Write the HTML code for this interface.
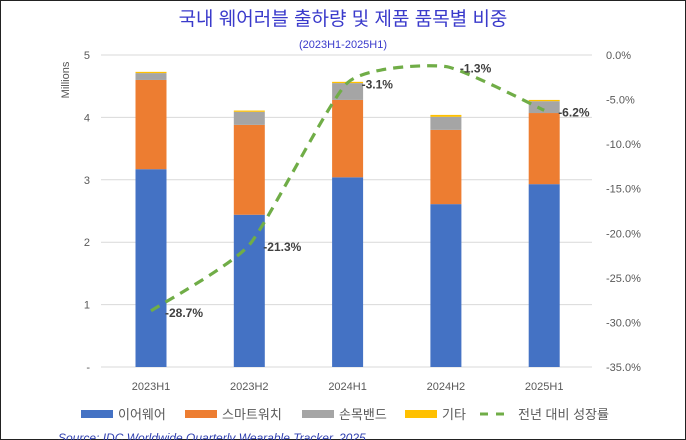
<!DOCTYPE html>
<html><head><meta charset="utf-8">
<style>
html,body{margin:0;padding:0;background:#fff;}
body{width:686px;height:440px;overflow:hidden;}
svg{display:block;font-family:"Liberation Sans","Noto Sans CJK KR",sans-serif;}
</style></head>
<body>
<svg id="chart" width="686" height="440" viewBox="0 0 686 440">
  <rect x="0.5" y="0.5" width="685" height="439" fill="#fff" stroke="#222" stroke-width="1"/>
  <text x="343" y="25" text-anchor="middle" font-size="19" fill="#3a3acb">국내 웨어러블 출하량 및 제품 품목별 비중</text>
  <text x="343" y="48" text-anchor="middle" font-size="11" fill="#3a3acb">(2023H1-2025H1)</text>
  <text transform="translate(69,80) rotate(-90)" text-anchor="middle" font-size="11" fill="#555">Millions</text>
  <g id="grid"></g><g id="bars"></g><g id="line"></g><g id="labels"></g>
  <g id="legend"></g>
  <text x="58" y="442" font-size="12" font-style="italic" fill="#2f3fb0">Source: IDC Worldwide Quarterly Wearable Tracker, 2025</text>
</svg>
<script>
const categories=["2023H1","2023H2","2024H1","2024H2","2025H1"];
const earwear=[3.17,2.44,3.04,2.61,2.93];
const smartwatch=[1.43,1.44,1.24,1.19,1.14];
const wristband=[0.11,0.21,0.27,0.21,0.19];
const other=[0.02,0.02,0.02,0.03,0.02];
const growth=[-28.7,-21.3,-3.1,-1.3,-6.2];
const leftTicks=[0,1,2,3,4,5];
const rightTicks=[0,-5,-10,-15,-20,-25,-30,-35];

const NS="http://www.w3.org/2000/svg";
const y0=367,yTop=55,x0=101,x1=592,step=98.3,cx0=151,bw=31;
const yL=v=>y0-(y0-yTop)*v/5;
const yR=v=>yTop+(y0-yTop)*(v/-35);
const xC=i=>cx0+i*step;
function mk(tag,attrs,parent){const e=document.createElementNS(NS,tag);for(const k in attrs)e.setAttribute(k,attrs[k]);parent.appendChild(e);return e;}
const grid=document.getElementById('grid');
leftTicks.forEach(t=>{
  if(t>0){const l=mk('line',{x1:x0,x2:x1,y1:yL(t),y2:yL(t),stroke:'#d9d9d9','stroke-width':1},grid);
  
  }
  const tx=mk('text',{x:90,y:yL(t)+4,'text-anchor':'end','font-size':11,fill:'#595959'},grid);
  tx.textContent=t===0?'-':String(t);
  
  
});
const base=mk('line',{x1:x0,x2:x1,y1:y0,y2:y0,stroke:'#d9d9d9','stroke-width':1},grid);


rightTicks.forEach(t=>{
  const tx=mk('text',{x:606,y:yR(t)+4,'font-size':11,fill:'#595959'},grid);
  tx.textContent=t.toFixed(1)+'%';
  
  
});
const bars=document.getElementById('bars');
const series=[[earwear,'#4472c4','bar-earwear'],[smartwatch,'#ed7d31','bar-smartwatch'],[wristband,'#a5a5a5','bar-wristband'],[other,'#ffc000','bar-other']];
categories.forEach((c,i)=>{
  let acc=0;
  series.forEach(([arr,col,nm])=>{
    const v=arr[i];
    const r=mk('rect',{x:xC(i)-bw/2,y:yL(acc+v),width:bw,height:yL(acc)-yL(acc+v),fill:col},bars);
    
    
    acc+=v;
  });
  const tx=mk('text',{x:xC(i),y:390,'text-anchor':'middle','font-size':11,fill:'#595959'},bars);
  tx.textContent=c;
  
  
});
const pts=growth.map((g,i)=>[xC(i),yR(g)]);
let d=`M${pts[0][0]},${pts[0][1]}`;
const k=0.09;
for(let i=0;i<pts.length-1;i++){
  const p0=pts[Math.max(0,i-1)],p1=pts[i],p2=pts[i+1],p3=pts[Math.min(pts.length-1,i+2)];
  const c1=[p1[0]+(p2[0]-p0[0])*k,p1[1]+(p2[1]-p0[1])*k];
  const c2=[p2[0]-(p3[0]-p1[0])*k,p2[1]-(p3[1]-p1[1])*k];
  d+=` C${c1[0]},${c1[1]} ${c2[0]},${c2[1]} ${p2[0]},${p2[1]}`;
}
const line=mk('path',{d:d,fill:'none',stroke:'#70ad47','stroke-width':3.2,'stroke-dasharray':'10 7'},document.getElementById('line'));


const labs=document.getElementById('labels');
growth.forEach((g,i)=>{
  const tx=mk('text',{x:xC(i)+14,y:yR(g)+6,'font-size':12,'font-weight':'bold',fill:'#404040'},labs);
  tx.textContent=g.toFixed(1)+'%';
  
  
});
const leg=document.getElementById('legend');
const items=[['이어웨어','#4472c4',81],['스마트워치','#ed7d31',185],['손목밴드','#a5a5a5',302],['기타','#ffc000',405]];
items.forEach(([t,c,x])=>{
  const g=mk('g',{},leg);
  
  
  mk('rect',{x:x,y:410,width:32,height:8,fill:c},g);
  const tx=mk('text',{x:x+37,y:419,'font-size':13,fill:'#595959'},g);
  tx.textContent=t;
});
const g=mk('g',{},leg);


mk('line',{x1:480,x2:512,y1:414,y2:414,stroke:'#70ad47','stroke-width':3,'stroke-dasharray':'8 8'},g);
const tx=mk('text',{x:518,y:419,'font-size':13,fill:'#595959'},g);
tx.textContent='전년 대비 성장률';
</script>
</body></html>
